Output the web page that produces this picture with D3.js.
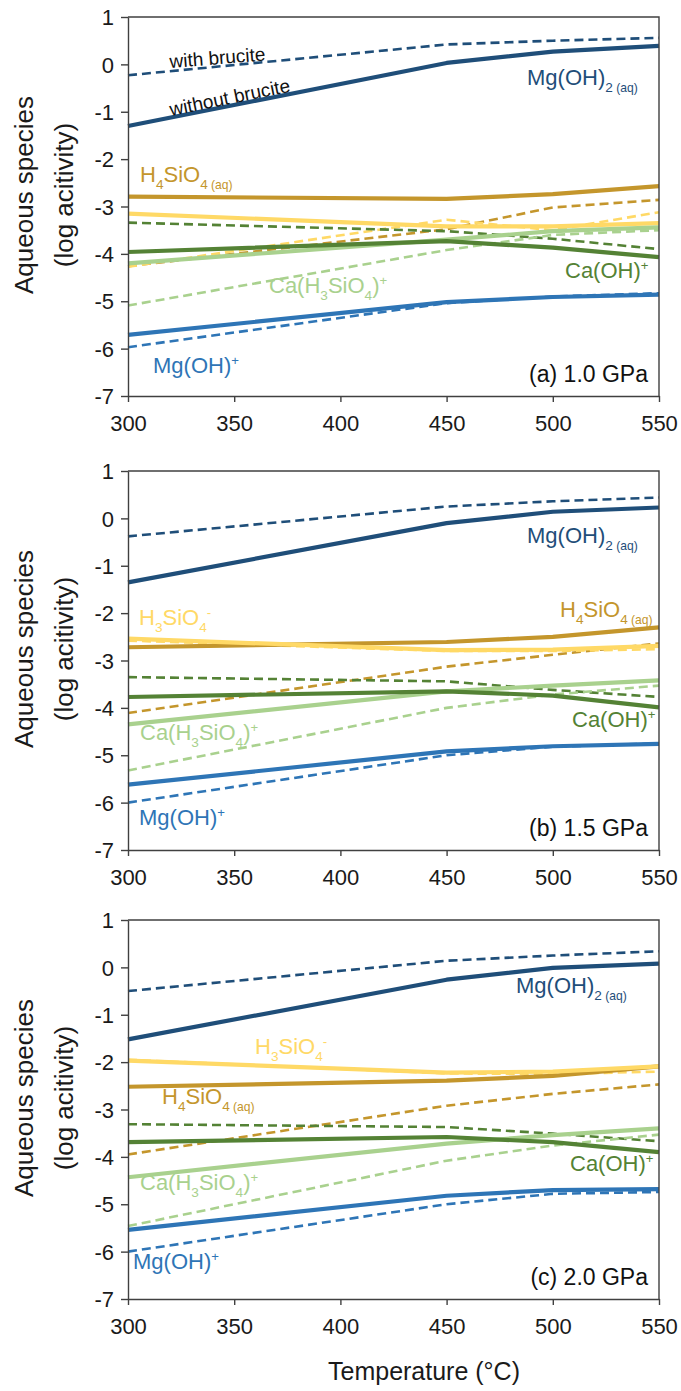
<!DOCTYPE html>
<html>
<head>
<meta charset="utf-8">
<script src="https://cdn.jsdelivr.net/npm/d3@7"></script>
<style>
  body { margin: 0; background: #fff; }
  text { font-family: "Liberation Sans", Arial, sans-serif; }
</style>
</head>
<body>
<div id="chart"></div>
<script>
// temperatures (°C) and log activities, one row per pressure panel (1.0, 1.5, 2.0 GPa)
const temps = [300, 450, 500, 550];
const pressures = ["(a) 1.0 GPa", "(b) 1.5 GPa", "(c) 2.0 GPa"];
const yTicks = [1, 0, -1, -2, -3, -4, -5, -6, -7];
const xTicks = [300, 350, 400, 450, 500, 550];

// solid = without brucite, dashed = with brucite
const mgOH2Solid = [[-1.30, 0.03, 0.27, 0.39], [-1.35, -0.10, 0.14, 0.23], [-1.52, -0.26, -0.01, 0.08]];
const mgOH2Dashed = [[-0.23, 0.42, 0.50, 0.56], [-0.38, 0.25, 0.36, 0.44], [-0.50, 0.14, 0.25, 0.34]];
const h4sio4Solid = [[-2.79, -2.84, -2.74, -2.57], [-2.72, -2.61, -2.50, -2.30], [-2.52, -2.39, -2.29, -2.09]];
const h4sio4Dashed = [[-4.26, -3.48, -3.02, -2.86], [-4.11, -3.13, -2.88, -2.64], [-3.95, -2.92, -2.67, -2.47]];
const h3sio4Solid = [[-3.15, -3.42, -3.42, -3.35], [-2.54, -2.78, -2.77, -2.69], [-1.97, -2.22, -2.20, -2.09]];
const h3sio4Dashed = [[-4.27, -3.28, -3.50, -3.12], [-2.58, -2.80, -2.80, -2.76], [-1.95, -2.24, -2.25, -2.20]];
const caOHSolid = [[-3.96, -3.73, -3.87, -4.07], [-3.77, -3.65, -3.74, -3.99], [-3.69, -3.58, -3.69, -3.90]];
const caOHDashed = [[-3.34, -3.52, -3.68, -3.90], [-3.35, -3.44, -3.62, -3.77], [-3.31, -3.37, -3.51, -3.67]];
const caH3SiO4Solid = [[-4.20, -3.70, -3.52, -3.44], [-4.35, -3.65, -3.53, -3.42], [-4.43, -3.72, -3.54, -3.40]];
const caH3SiO4Dashed = [[-5.09, -3.92, -3.60, -3.50], [-5.32, -4.00, -3.72, -3.53], [-5.46, -4.08, -3.76, -3.53]];
const mgOHSolid = [[-5.71, -5.02, -4.91, -4.86], [-5.62, -4.92, -4.81, -4.76], [-5.54, -4.82, -4.70, -4.68]];
const mgOHDashed = [[-5.97, -5.04, -4.90, -4.83], [-6.00, -5.00, -4.82, -4.75], [-6.00, -5.00, -4.78, -4.74]];

const C = {
    mgOH2: "#1f4e79", mgOH: "#2e75b6", h4: "#c4962c", h3: "#ffd966",
    caOH: "#548235", caSi: "#a9d18e", axis: "#404040"
};

// draw order: dashed first, solids on top
const series = [
    { d: h4sio4Dashed, c: C.h4, dash: true },
    { d: h3sio4Dashed, c: C.h3, dash: true },
    { d: caOHDashed, c: C.caOH, dash: true },
    { d: caH3SiO4Dashed, c: C.caSi, dash: true },
    { d: mgOHDashed, c: C.mgOH, dash: true },
    { d: mgOH2Dashed, c: C.mgOH2, dash: true },
    { d: h4sio4Solid, c: C.h4 },
    { d: h3sio4Solid, c: C.h3 },
    { d: caH3SiO4Solid, c: C.caSi },
    { d: caOHSolid, c: C.caOH },
    { d: mgOHSolid, c: C.mgOH },
    { d: mgOH2Solid, c: C.mgOH2 }
];

const W = 681, H = 1391, L = 128, R = 659, PH = 379, tops = [17, 471, 920];
const svg = d3.select("#chart").append("svg").attr("width", W).attr("height", H);

const x = d3.scaleLinear().domain([300, 550]).range([L, R]);

// text with sub/superscript pieces: parts = [[str, "sub"|"sup"|"subs"|""], ...]
function rich(g, px, py, parts, col, fs, anchor) {
    const t = g.append("text").attr("x", px).attr("y", py).attr("fill", col)
        .attr("font-size", fs).attr("text-anchor", anchor || "start");
    let shift = 0;
    parts.forEach(([s, k]) => {
        let want = 0, size = fs;
        if (k === "sub") { want = fs * 0.3; size = fs * 0.62; }
        if (k === "subs") { want = fs * 0.3; size = fs * 0.55; }
        if (k === "sup") { want = -fs * 0.38; size = fs * 0.6; }
        t.append("tspan").attr("dy", want - shift).attr("font-size", size).text(s);
        shift = want;
    });
    return t;
}

const labels = [
    [
        { p: [["Mg(OH)", ""], ["2", "sub"], [" (aq)", "subs"]], x: 527, y: 85, c: C.mgOH2 },
        { p: [["H", ""], ["4", "sub"], ["SiO", ""], ["4", "sub"], [" (aq)", "subs"]], x: 140, y: 182, c: C.h4 },
        { p: [["Ca(H", ""], ["3", "sub"], ["SiO", ""], ["4", "sub"], [")", ""], ["+", "sup"]], x: 269, y: 293, c: C.caSi },
        { p: [["Ca(OH)", ""], ["+", "sup"]], x: 565, y: 278, c: C.caOH },
        { p: [["Mg(OH)", ""], ["+", "sup"]], x: 153, y: 373, c: C.mgOH }
    ],
    [
        { p: [["Mg(OH)", ""], ["2", "sub"], [" (aq)", "subs"]], x: 527, y: 543, c: C.mgOH2 },
        { p: [["H", ""], ["3", "sub"], ["SiO", ""], ["4", "sub"], ["-", "sup"]], x: 139, y: 625, c: C.h3 },
        { p: [["H", ""], ["4", "sub"], ["SiO", ""], ["4", "sub"], [" (aq)", "subs"]], x: 560, y: 617, c: C.h4 },
        { p: [["Ca(H", ""], ["3", "sub"], ["SiO", ""], ["4", "sub"], [")", ""], ["+", "sup"]], x: 140, y: 740, c: C.caSi },
        { p: [["Ca(OH)", ""], ["+", "sup"]], x: 572, y: 727, c: C.caOH },
        { p: [["Mg(OH)", ""], ["+", "sup"]], x: 139, y: 825, c: C.mgOH }
    ],
    [
        { p: [["Mg(OH)", ""], ["2", "sub"], [" (aq)", "subs"]], x: 516, y: 993, c: C.mgOH2 },
        { p: [["H", ""], ["3", "sub"], ["SiO", ""], ["4", "sub"], ["-", "sup"]], x: 255, y: 1054, c: C.h3 },
        { p: [["H", ""], ["4", "sub"], ["SiO", ""], ["4", "sub"], [" (aq)", "subs"]], x: 162, y: 1104, c: C.h4 },
        { p: [["Ca(H", ""], ["3", "sub"], ["SiO", ""], ["4", "sub"], [")", ""], ["+", "sup"]], x: 140, y: 1190, c: C.caSi },
        { p: [["Ca(OH)", ""], ["+", "sup"]], x: 570, y: 1171, c: C.caOH },
        { p: [["Mg(OH)", ""], ["+", "sup"]], x: 133, y: 1269, c: C.mgOH }
    ]
];

tops.forEach((top, i) => {
    const y = d3.scaleLinear().domain([-7, 1]).range([top + PH, top]);
    const g = svg.append("g");
    const line = d3.line().x((d, j) => x(temps[j])).y(d => y(d));

    series.forEach(s => {
        g.append("path").attr("d", line(s.d[i])).attr("fill", "none")
            .attr("stroke", s.c).attr("stroke-width", s.dash ? 2.6 : 4.2)
            .attr("stroke-dasharray", s.dash ? "9,5" : null)
            .attr("stroke-linejoin", "round");
    });

    // frame
    g.append("path").attr("d", `M${L},${top}H${R}V${top + PH}`).attr("fill", "none")
        .attr("stroke", C.axis).attr("stroke-width", 1.4);

    const ya = g.append("g").attr("transform", `translate(${L},0)`)
        .call(d3.axisLeft(y).tickValues(yTicks).tickFormat(d => String(d))
            .tickSize(7).tickPadding(7).tickSizeOuter(0));
    const xa = g.append("g").attr("transform", `translate(0,${top + PH})`)
        .call(d3.axisBottom(x).tickValues(xTicks).tickSize(6).tickSizeOuter(0));
    [ya, xa].forEach(a => {
        a.select(".domain").attr("stroke", C.axis).attr("stroke-width", 1.4);
        a.selectAll(".tick line").attr("stroke", C.axis).attr("stroke-width", 1.4);
        a.selectAll("text").attr("font-size", 22).attr("fill", "#1a1a1a")
            .attr("font-family", "'Liberation Sans', Arial, sans-serif");
    });
    ya.selectAll("text").attr("dy", "0.35em");
    xa.selectAll("text").attr("y", 35).attr("dy", 0);

    // y title
    const cy = top + 178;
    g.append("text").attr("transform", `translate(33,${cy}) rotate(-90)`)
        .attr("text-anchor", "middle").attr("font-size", 26).attr("fill", "#1a1a1a").text("Aqueous species");
    g.append("text").attr("transform", `translate(73,${cy}) rotate(-90)`)
        .attr("text-anchor", "middle").attr("font-size", 26).attr("fill", "#1a1a1a").text("(log acitivity)");

    labels[i].forEach(l => rich(g, l.x, l.y, l.p, l.c, 22));

    g.append("text").attr("x", 648).attr("y", top + PH - 14).attr("text-anchor", "end")
        .attr("font-size", 23).attr("fill", "#111").text(pressures[i]);
});

// brucite notes along the 1.0 GPa Mg(OH)2 lines
svg.append("text").attr("transform", "translate(170,68) rotate(-4.5)")
    .attr("font-size", 19).attr("fill", "#111").text("with brucite");
svg.append("text").attr("transform", "translate(171,116) rotate(-11.5)")
    .attr("font-size", 19).attr("fill", "#111").text("without brucite");

svg.append("text").attr("x", 424).attr("y", 1380).attr("text-anchor", "middle")
    .attr("font-size", 25).attr("fill", "#1a1a1a").text("Temperature (°C)");
</script>
</body>
</html>
